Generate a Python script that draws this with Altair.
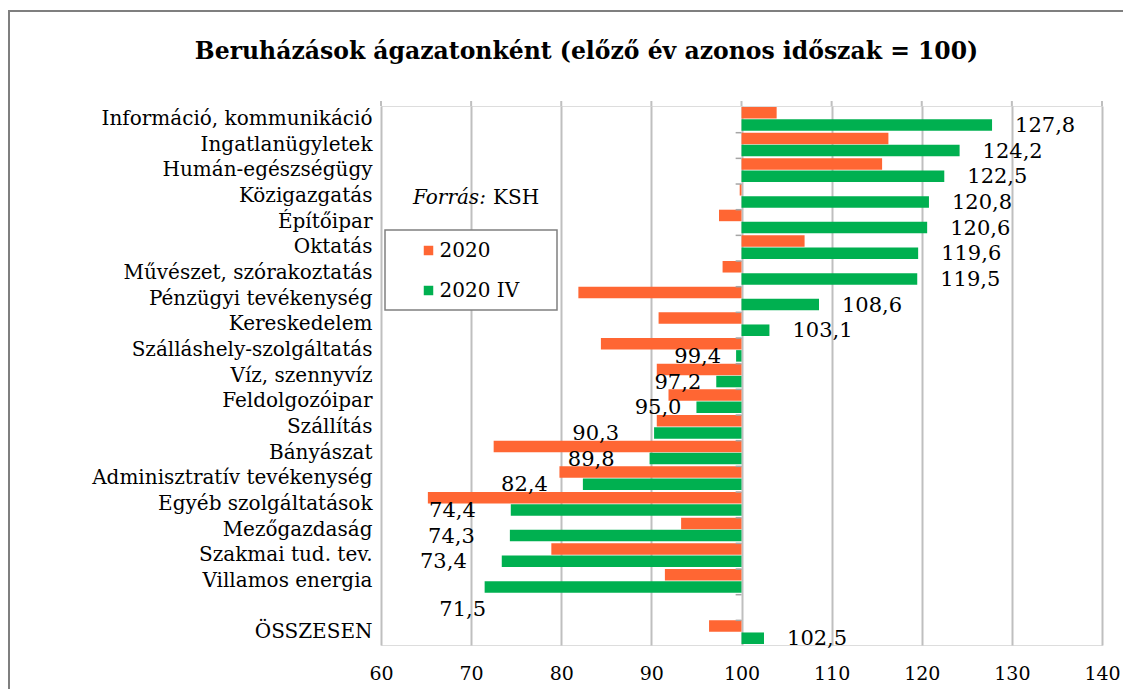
import altair as alt
import pandas as pd

categories = ["Információ, kommunikáció", "Ingatlanügyletek", "Humán-egészségügy",
              "Közigazgatás", "Építőipar", "Oktatás", "Művészet, szórakoztatás",
              "Pénzügyi tevékenység", "Kereskedelem", "Szálláshely-szolgáltatás",
              "Víz, szennyvíz", "Feldolgozóipar", "Szállítás", "Bányászat",
              "Adminisztratív tevékenység", "Egyéb szolgáltatások", "Mezőgazdaság",
              "Szakmai tud. tev.", "Villamos energia", " ", "ÖSSZESEN"]
v_2020 = [103.9, 116.3, 115.6, 99.8, 97.5, 107.0, 97.9, 81.9, 90.8, 84.4,
          90.6, 91.9, 90.6, 72.5, 79.8, 65.2, 93.3, 78.9, 91.5, None, 96.4]
v_2020_iv = [127.8, 124.2, 122.5, 120.8, 120.6, 119.6, 119.5, 108.6, 103.1, 99.4,
             97.2, 95.0, 90.3, 89.8, 82.4, 74.4, 74.3, 73.4, 71.5, None, 102.5]
series_names = ["2020", "2020 IV"]
series_colors = ["#FF6633", "#00B050"]
x_ticks = [60, 70, 80, 90, 100, 110, 120, 130, 140]
title_text = "Beruházások ágazatonként (előző év azonos időszak = 100)"

FONT = "DejaVu Serif"

rows = []
for c, a, b in zip(categories, v_2020, v_2020_iv):
    if a is not None:
        rows.append({"cat": c, "series": series_names[0], "v": a})
    if b is not None:
        rows.append({"cat": c, "series": series_names[1], "v": b})
df = pd.DataFrame(rows)
lab = df[df["series"] == "2020 IV"].copy()
ticks_df = pd.DataFrame({"cat": categories[1:]})
xtick_df = pd.DataFrame({"t": x_ticks})

yscale = alt.Scale(domain=categories, paddingInner=0.08, paddingOuter=0.04)
yaxis = alt.Axis(title=None, ticks=False, domain=False, labelPadding=9,
                 labelFontSize=20, labelFont=FONT, labelColor="black", labelLimit=400)
xscale = alt.Scale(domain=[60, 140], nice=False, zero=False)
xaxis = alt.Axis(values=x_ticks, title=None, grid=True, gridColor="#BFBFBF", gridWidth=2,
                 ticks=False, domain=False, labelPadding=19, labelFontSize=19,
                 labelFlush=False, labelFont=FONT, labelColor="black")

def Y(**kw):
    return alt.Y("cat:N", sort=categories, scale=yscale, axis=yaxis, **kw)

X = alt.X("v:Q", scale=xscale, axis=xaxis)

one = pd.DataFrame({"a": [0]})

frame = alt.Chart(one).mark_rect(fill=None, stroke="#7F7F7F", strokeWidth=2).encode(
    x=alt.value(-372), x2=alt.value(900), y=alt.value(-95), y2=alt.value(800))

title = alt.Chart(one).mark_text(
    align="center", baseline="middle", font=FONT, fontSize=23.5, fontWeight="bold", color="black"
).encode(x=alt.value(205.5), y=alt.value(-54), text=alt.value(title_text))

grid_ext = alt.Chart(xtick_df).mark_rule(color="#BFBFBF", strokeWidth=2).encode(
    x=alt.X("t:Q", scale=xscale, axis=xaxis), y=alt.value(-5), y2=alt.value(0))

legend_box = alt.Chart(one).mark_rect(fill="white", stroke="#808080", strokeWidth=1.5).encode(
    x=alt.value(4), x2=alt.value(176), y=alt.value(124), y2=alt.value(204))

bars = alt.Chart(df).mark_bar().encode(
    y=Y(),
    x=X,
    x2=alt.datum(100),
    yOffset=alt.YOffset("series:N", sort=series_names, scale=alt.Scale(paddingInner=0.05)),
    color=alt.Color("series:N", sort=series_names,
                    scale=alt.Scale(domain=series_names, range=series_colors),
                    legend=alt.Legend(orient="none", legendX=37.5, legendY=134.5, title=None,
                                      symbolType="square", symbolSize=90, symbolStrokeWidth=0,
                                      labelFont=FONT, labelFontSize=20, labelColor="black",
                                      labelOffset=1, rowPadding=20, padding=0)),
)

tick_marks = alt.Chart(ticks_df).mark_rule(color="#A6A6A6", strokeWidth=1.5).encode(
    y=Y(bandPosition=0),
    x=alt.X(datum=99.35, scale=xscale, axis=xaxis),
    x2=alt.datum(100),
)

label_base = alt.Chart(lab).transform_calculate(
    txt="replace(format(datum.v, '.1f'), '.', ',')")

def lab_layer(flt, align, dx, dy):
    return label_base.transform_filter(flt).mark_text(
        align=align, baseline="middle", dx=dx, dy=dy, font=FONT, fontSize=21, color="black"
    ).encode(y=Y(), x=X, text="txt:N")

lab_right = lab_layer("datum.v >= 100", "left", 23, 7)
lab_near = lab_layer("datum.v < 100 && datum.v >= 93", "right", -15, 7)
lab_far = lab_layer("datum.v < 93 && datum.cat != 'Villamos energia'", "right", -35, 7)
lab_villamos = lab_layer("datum.cat == 'Villamos energia'", "center", -22, 29)

forras = alt.Chart(one).mark_text(
    align="left", baseline="middle", font=FONT, fontSize=20, fontStyle="italic", color="black"
).encode(x=alt.value(32), y=alt.value(92), text=alt.value("Forrás:"))
ksh = alt.Chart(one).mark_text(
    align="left", baseline="middle", font=FONT, fontSize=20, color="black"
).encode(x=alt.value(112), y=alt.value(92), text=alt.value("KSH"))

chart = alt.layer(
    frame, title, grid_ext, bars, tick_marks, legend_box, lab_right, lab_near, lab_far,
    lab_villamos, forras, ksh
).properties(
    width=721, height=539,
    padding={"left": 373, "top": 98, "right": 21, "bottom": 44},
    autosize=alt.AutoSizeParams(type="none"),
).configure_view(stroke="#BFBFBF", strokeWidth=2).configure(background="white")

chart.save("out.html", embed_options={"renderer": "svg", "actions": False})
